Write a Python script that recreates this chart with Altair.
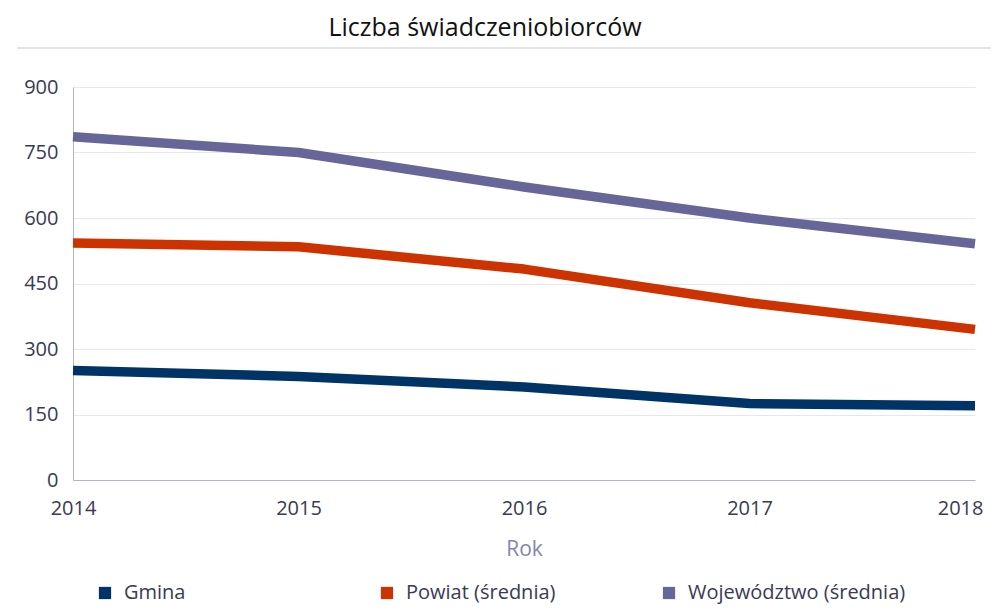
import altair as alt
import pandas as pd

years = [2014, 2015, 2016, 2017, 2018]
series_names = ["Gmina", "Powiat (średnia)", "Województwo (średnia)"]
gmina = [251, 237, 213, 175, 170]
powiat = [543, 534, 483, 406, 345]
wojewodztwo = [786, 750, 671, 600, 541]
colors = ["#003366", "#cc3300", "#666699"]
y_ticks = [0, 150, 300, 450, 600, 750, 900]
chart_title = "Liczba świadczeniobiorców"

rows = []
for name, vals in zip(series_names, [gmina, powiat, wojewodztwo]):
    for yr, v in zip(years, vals):
        rows.append({"Rok": yr, "Seria": name, "Wartość": v})
df = pd.DataFrame(rows)

FONT = "Open Sans"
TXT = "#3a3a52"

x_enc = alt.X("Rok:Q",
              scale=alt.Scale(domain=[2014, 2018], nice=False, zero=False),
              axis=alt.Axis(values=years, format="d", title="Rok", tickSize=0,
                            labelPadding=18, titlePadding=20, grid=False, labelFlush=False,
                            labelAlign={"condition": {"test": "datum.value == 2018", "value": "right"},
                                        "value": "center"},
                            labelOffset={"condition": {"test": "datum.value == 2018", "value": 8},
                                         "value": 0},
                            labelFontSize=20, titleFontSize=21, titleColor="#8585ae",
                            titleFontWeight="normal", labelColor=TXT,
                            domainColor="#b4b4cc", labelFont=FONT, titleFont=FONT))
y_enc = alt.Y("Wartość:Q",
              scale=alt.Scale(domain=[0, 900], nice=False),
              axis=alt.Axis(values=y_ticks, title=None, tickSize=0, labelPadding=15,
                            labelFontSize=20, labelColor=TXT, gridColor="#e6e6ee",
                            domainColor="#b4b4cc", labelFont=FONT))

lines = alt.Chart(df).mark_line(strokeWidth=9.5, strokeCap="butt", strokeJoin="round").encode(
    x=x_enc, y=y_enc,
    color=alt.Color("Seria:N", scale=alt.Scale(domain=series_names, range=colors), legend=None),
)

legend_pts = alt.Chart(df).mark_square(filled=True, opacity=0, size=10).encode(
    x=x_enc, y=y_enc,
    fill=alt.Fill("Seria:N", scale=alt.Scale(domain=series_names, range=colors),
                  legend=alt.Legend(title=None, orient="none", legendX=22, legendY=496,
                                    direction="horizontal", columns=3, gridAlign="all",
                                    columnPadding=35, symbolType="square", symbolSize=150,
                                    symbolOpacity=1, symbolStrokeWidth=0,
                                    labelFontSize=20, labelColor=TXT,
                                    labelFont=FONT, labelOffset=9, labelLimit=400)),
)

sep = alt.Chart(pd.DataFrame({"a": [0]})).mark_rule(color="#e3e3ea", strokeWidth=2).encode(
    x=alt.value(-56), x2=alt.value(926), y=alt.value(-39)
)

title = alt.Chart(pd.DataFrame({"t": [chart_title]})).mark_text(
    fontSize=25, font=FONT, color="#111111", align="center", baseline="alphabetic"
).encode(text="t:N", x=alt.value(412), y=alt.value(-51))

chart = alt.layer(lines, legend_pts, sep, title).resolve_scale(fill="independent").properties(
    width=902, height=393,
    autosize=alt.AutoSizeParams(type="none"),
    padding={"left": 65, "top": 79, "right": 16, "bottom": 128},
).configure_view(stroke=None)

chart.save("out.html", embed_options={"renderer": "svg", "actions": False})
